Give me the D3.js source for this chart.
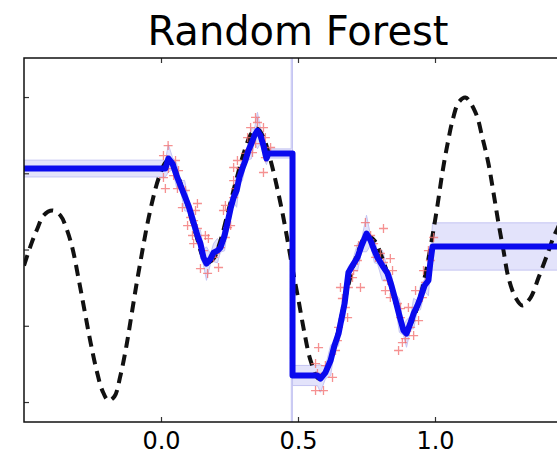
<!DOCTYPE html>
<html lang="en">
<head>
<meta charset="UTF-8">
<title>Random Forest</title>
<script src="https://d3js.org/d3.v7.min.js"></script>
<style>
  body { margin: 0; background: #fff; }
  svg { display: block; }
</style>
</head>
<body>
<svg id="chart" width="557" height="456"></svg>
<script>
// true function (dashed)
const trueX = [-0.50, -0.473, -0.451, -0.429, -0.396, -0.367, -0.345, -0.323, -0.301, -0.279, -0.257, -0.235,
  -0.214, -0.192, -0.170, -0.148, -0.126, -0.108, -0.089, -0.071, -0.053, -0.031, -0.009, 0.016, 0.027, 0.053,
  0.089, 0.126, 0.151, 0.170, 0.192, 0.217, 0.246, 0.276, 0.305, 0.330, 0.352, 0.374, 0.400, 0.422, 0.443,
  0.462, 0.480, 0.502, 0.524, 0.546, 0.575, 0.600, 0.630, 0.659, 0.688, 0.717, 0.750, 0.779, 0.808, 0.837,
  0.867, 0.892, 0.918, 0.947, 0.969, 0.991, 1.009, 1.027, 1.046, 1.064, 1.086, 1.111, 1.148, 1.173, 1.195,
  1.214, 1.232, 1.250, 1.268, 1.294, 1.319, 1.349, 1.378, 1.411, 1.432, 1.447, 1.476, 1.50];
const trueY = [-0.105, 0.039, 0.138, 0.223, 0.256, 0.223, 0.138, 0.007, -0.190, -0.400, -0.610, -0.793,
  -0.925, -0.990, -0.964, -0.826, -0.630, -0.433, -0.223, -0.039, 0.138, 0.321, 0.466, 0.570, 0.584, 0.518,
  0.334, 0.111, -0.039, -0.085, -0.059, 0.059, 0.256, 0.466, 0.649, 0.761, 0.793, 0.734, 0.584, 0.420, 0.243,
  0.059, -0.125, -0.334, -0.551, -0.728, -0.846, -0.807, -0.662, -0.433, -0.203, -0.026, 0.092, 0.059, -0.059,
  -0.223, -0.413, -0.531, -0.466, -0.302, -0.125, 0.092, 0.289, 0.505, 0.695, 0.846, 0.964, 0.997, 0.898,
  0.734, 0.564, 0.367, 0.170, -0.007, -0.184, -0.315, -0.367, -0.315, -0.184, -0.026, 0.079, 0.138, 0.256, 0.387];

// noisy training points
const pointX = [0.026, 0.009, 0.053, 0.027, 0.064, 0.009, 0.046, 0.016, 0.060, 0.089, 0.078, 0.133, 0.126,
  0.108, 0.097, 0.119, 0.133, 0.115, 0.119, 0.162, 0.173, 0.155, 0.144, 0.170, 0.210, 0.192, 0.199, 0.217,
  0.235, 0.243, 0.254, 0.228, 0.235, 0.265, 0.272, 0.265, 0.265, 0.290, 0.279, 0.308, 0.334, 0.345, 0.316,
  0.327, 0.345, 0.352, 0.374, 0.381, 0.381, 0.374, 0.400,
  0.575, 0.564, 0.571, 0.600, 0.626, 0.564, 0.593, 0.637, 0.644, 0.648, 0.681, 0.673, 0.662, 0.655, 0.684,
  0.699, 0.728, 0.703, 0.717, 0.721, 0.746, 0.812, 0.765, 0.776, 0.783, 0.801, 0.812, 0.837, 0.845, 0.827,
  0.819, 0.837, 0.863, 0.874, 0.874, 0.903, 0.911, 0.892, 0.922, 0.881, 0.867, 0.940, 0.929, 0.954, 0.965,
  0.958, 0.983, 0.976, 0.995];
const pointY = [0.682, 0.616, 0.584, 0.531, 0.518, 0.472, 0.485, 0.400, 0.400, 0.387, 0.275, 0.302, 0.256,
  0.210, 0.157, 0.190, 0.138, 0.092, 0.039, 0.092, 0.072, -0.007, -0.125, -0.157, -0.118, -0.052, -0.026, 0.013,
  0.079, 0.144, 0.157, 0.256, 0.289, 0.341, 0.400, 0.452, 0.538, 0.531, 0.584, 0.630, 0.636, 0.695, 0.734,
  0.800, 0.866, 0.833, 0.800, 0.734, 0.603, 0.505, 0.669,
  -0.643, -0.748, -0.813, -0.761, -0.839, -0.925, -0.925, -0.662, -0.597, -0.511, -0.446, -0.380, -0.321,
  -0.249, -0.249, -0.184, -0.249, -0.138, -0.072, 0.026, 0.177, 0.138, 0.092, 0.039, -0.052, -0.026, -0.085,
  -0.059, -0.138, -0.203, -0.269, -0.315, -0.354, -0.387, -0.446, -0.380, -0.511, -0.584, -0.564, -0.610,
  -0.662, -0.466, -0.269, -0.315, -0.216, -0.138, -0.072, -0.007, 0.079];

// forest prediction and spread between trees
const predX = [-0.5, 0.016, 0.027, 0.042, 0.057, 0.071, 0.086, 0.100, 0.119, 0.133, 0.144, 0.155, 0.166,
  0.181, 0.192, 0.206, 0.217, 0.232, 0.243, 0.254, 0.265, 0.276, 0.286, 0.297, 0.308, 0.319, 0.330, 0.341,
  0.352, 0.363, 0.374, 0.385, 0.392, 0.475, 0.476, 0.479, 0.480, 0.480, 0.571, 0.582, 0.600, 0.619, 0.633,
  0.648, 0.659, 0.670, 0.684, 0.699, 0.717, 0.732, 0.750, 0.765, 0.779, 0.790, 0.808, 0.827, 0.841, 0.856,
  0.870, 0.885, 0.896, 0.911, 0.922, 0.936, 0.947, 0.962, 0.976, 0.983, 0.991, 1.5];
const predY = [0.531, 0.531, 0.597, 0.564, 0.485, 0.420, 0.354, 0.289, 0.177, 0.092, 0.039, -0.052, -0.092,
  -0.059, -0.020, -0.007, 0.013, 0.092, 0.177, 0.269, 0.341, 0.387, 0.472, 0.531, 0.584, 0.649, 0.695, 0.748,
  0.780, 0.748, 0.682, 0.597, 0.630, 0.630, 0.630, 0.630, 0.630, -0.826, -0.826, -0.846, -0.807, -0.728,
  -0.630, -0.551, -0.452, -0.354, -0.151, -0.105, -0.052, 0.026, 0.105, 0.059, -0.007, -0.052, -0.105, -0.157,
  -0.236, -0.334, -0.433, -0.531, -0.551, -0.479, -0.420, -0.367, -0.315, -0.236, -0.203, -0.085, 0.020, 0.020];
const predErr = [0.055, 0.055, 0.09, 0.04, 0.08, 0.03, 0.10, 0.04, 0.07, 0.03, 0.09, 0.05, 0.11,
  0.03, 0.06, 0.08, 0.03, 0.10, 0.04, 0.07, 0.03, 0.11, 0.04, 0.08, 0.03, 0.06, 0.10, 0.04,
  0.12, 0.05, 0.08, 0.04, 0.03, 0.03, 3.0, 3.0, 0.03, 0.066, 0.066, 0.09, 0.04, 0.10, 0.03,
  0.08, 0.04, 0.11, 0.04, 0.03, 0.09, 0.04, 0.12, 0.03, 0.08, 0.04, 0.10, 0.03, 0.07, 0.04,
  0.11, 0.03, 0.09, 0.04, 0.10, 0.03, 0.08, 0.04, 0.10, 0.04, 0.155, 0.155];

const xTicks = [0.0, 0.5, 1.0];
const yTicks = [-1.0, -0.5, 0.0, 0.5, 1.0];

const svg = d3.select("#chart");
const plotLeft = 24, plotRight = 572, plotTop = 58, plotBottom = 422;

const x = d3.scaleLinear().domain([-0.5, 1.5]).range([plotLeft, plotRight]);
const y = d3.scaleLinear().domain([-1.131, 1.256]).range([plotBottom, plotTop]);

svg.append("defs").append("clipPath").attr("id", "plotClip")
  .append("rect").attr("x", plotLeft).attr("y", plotTop)
  .attr("width", plotRight - plotLeft).attr("height", plotBottom - plotTop);

const plot = svg.append("g").attr("clip-path", "url(#plotClip)");

const pred = predX.map((d, i) => ({ x: d, y: predY[i], e: predErr[i] }));

// spread band
plot.append("path")
  .datum(pred)
  .attr("d", d3.area().x(d => x(d.x)).y0(d => y(d.y - d.e)).y1(d => y(d.y + d.e)))
  .attr("fill", "#e3e3fb")
  .attr("stroke", "#c4c4f2")
  .attr("stroke-width", 1);

// true function
plot.append("path")
  .datum(trueX.map((d, i) => ({ x: d, y: trueY[i] })))
  .attr("d", d3.line().x(d => x(d.x)).y(d => y(d.y)).curve(d3.curveCatmullRom))
  .attr("fill", "none")
  .attr("stroke", "#111")
  .attr("stroke-width", 4)
  .attr("stroke-dasharray", "11,7");

// training points as '+'
const pts = pointX.map((d, i) => ({ x: d, y: pointY[i] }));
plot.append("g").selectAll("path")
  .data(pts)
  .enter()
  .append("path")
  .attr("d", d => `M${x(d.x) - 4.5},${y(d.y)}h9M${x(d.x)},${y(d.y) - 4.5}v9`)
  .attr("stroke", "#f26d6d")
  .attr("stroke-width", 1.3)
  .attr("opacity", 0.75);

// prediction
plot.append("path")
  .datum(pred)
  .attr("d", d3.line().x(d => x(d.x)).y(d => y(d.y)))
  .attr("fill", "none")
  .attr("stroke", "#0a0aee")
  .attr("stroke-width", 6)
  .attr("stroke-linejoin", "round");

// ticks, pointing inward
const tickStyle = g => {
  g.select(".domain").remove();
  g.selectAll(".tick line").attr("stroke", "#333").attr("stroke-width", 1.2);
};
svg.append("g").attr("transform", `translate(0,${plotBottom})`)
  .call(d3.axisBottom(x).tickValues(xTicks).tickSize(-5).tickPadding(10).tickFormat(d3.format(".1f")))
  .call(tickStyle)
  .selectAll("text")
  .attr("font-family", "DejaVu Sans")
  .attr("font-size", 24)
  .attr("fill", "#000");
svg.append("g").attr("transform", `translate(0,${plotTop})`)
  .call(d3.axisTop(x).tickValues(xTicks).tickSize(-5).tickFormat(""))
  .call(tickStyle);
svg.append("g").attr("transform", `translate(${plotLeft},0)`)
  .call(d3.axisLeft(y).tickValues(yTicks).tickSize(-5).tickFormat(""))
  .call(tickStyle);

// frame
svg.append("rect")
  .attr("x", plotLeft).attr("y", plotTop)
  .attr("width", plotRight - plotLeft).attr("height", plotBottom - plotTop)
  .attr("fill", "none")
  .attr("stroke", "#111")
  .attr("stroke-width", 1.5);

svg.append("text")
  .attr("x", (plotLeft + plotRight) / 2)
  .attr("y", 45)
  .attr("text-anchor", "middle")
  .attr("font-family", "DejaVu Sans")
  .attr("font-size", 40)
  .attr("fill", "#000")
  .text("Random Forest");
</script>
</body>
</html>
